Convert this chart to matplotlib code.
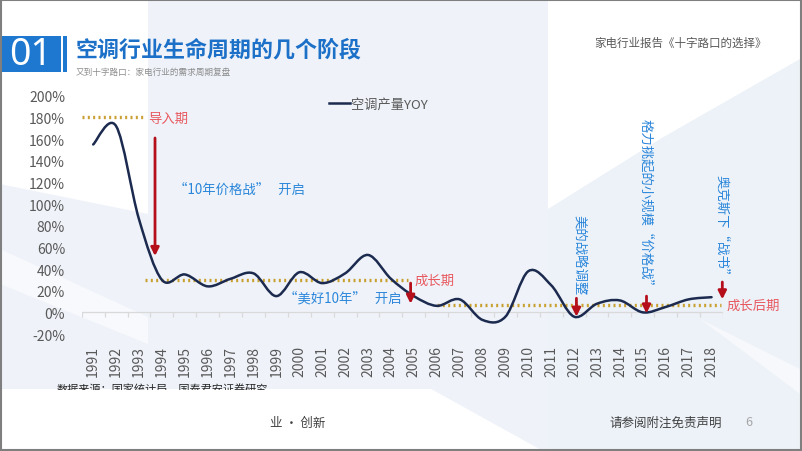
import numpy as np
import matplotlib
matplotlib.use("Agg")
import matplotlib.pyplot as plt
from matplotlib.path import Path
from matplotlib.patches import PathPatch, Rectangle, Polygon
from matplotlib.lines import Line2D

plt.rcParams['font.family'] = ['Noto Sans CJK SC', 'DejaVu Sans']

# ── DATA ─────────────────────────────────────────────────────
years = list(range(1991, 2019))
yoy = [155, 172, 86, 30, 35, 24, 31, 36, 15, 37, 27, 36, 53, 31,
       15, 6, 12, -7, -4, 38, 25, -4, 8, 11, 0, 5, 12, 14]

y_ticks = list(range(-20, 201, 20))

phase_names  = ["导入期", "成长期", "成长后期"]
phase_levels = [180, 30, 7]
phase_start  = [-0.49, 2.26, 15.0]
phase_end    = [2.26, 13.75, 27.4]
phase_text_x = [2.4, 14.05, 27.65]

event_text = ["“10年价格战”   开启", "“美好10年”   开启"]
event_x    = [3.55, 8.35]
event_y    = [114, 14]

vert_text   = ["美的战略调整", "格力挑起的小规模“价格战”", "奥克斯下“战书”"]
vert_x      = [21.2, 24.14, 27.46]
vert_bottom = [17, 19, 29]

arrow_x      = [2.7, 13.86, 21.1, 24.16, 27.47]
arrow_top    = [161, 27, 13, 15, 28]
arrow_bottom = [52, 8, -4, -1, 12]

# ── COLOURS ──────────────────────────────────────────────────
BLUE   = "#1E78CF"
NAVY   = "#1B2A4E"
GOLD   = "#C9A030"
RED_T  = "#E8585F"
RED_A  = "#B50F1C"
TXT_B  = "#2A86DA"
GREY   = "#595959"
PANEL  = "#EFF3F9"

fig = plt.figure(figsize=(8.02, 4.52), dpi=100)
fig.patch.set_facecolor("white")

# background / slide furniture in pixel coords
bg = fig.add_axes([0, 0, 1, 1], zorder=-1)
bg.set_xlim(0, 802); bg.set_ylim(452, 0); bg.axis("off")
bg.add_patch(Rectangle((148, 0), 400, 390, color=PANEL, lw=0))
bg.add_patch(Polygon([(0, 185), (148, 215), (148, 390), (0, 390)], color=PANEL, lw=0))
bg.add_patch(Polygon([(0, 250), (148, 318), (148, 345), (0, 285)], color="#F7F9FC", lw=0))
bg.add_patch(Polygon([(548, 210), (660, 140), (800, 60), (800, 452), (548, 452)],
                     color="#EDF2F8", lw=0))
bg.add_patch(Polygon([(431, 390), (548, 390), (548, 452), (543, 452)], color=PANEL, lw=0))
bg.add_patch(Polygon([(700, 320), (800, 370), (800, 395)], color="#F6F8FB", lw=0))

bg.add_patch(Rectangle((0, 37), 61, 36, color=BLUE, lw=0))
bg.add_patch(Rectangle((63, 37), 4, 36, color=BLUE, lw=0))
bg.text(30.5, 55, "01", color="white", fontsize=27, ha="center", va="center",
        family=["Noto Sans", "DejaVu Sans"])
bg.text(76, 50, "空调行业生命周期的几个阶段", color="#1C70C8", fontsize=15.8,
        fontweight="bold", va="center")
bg.text(76, 72, "又到十字路口：家电行业的需求周期复盘", color="#8C8C8C",
        fontsize=6.2, va="center")
bg.text(767, 43, "家电行业报告《十字路口的选择》", color=GREY, fontsize=8.3,
        ha="right", va="center")
bg.text(57, 389, "数据来源：国家统计局，国泰君安证券研究", color="#262626",
        fontsize=8, va="center")
bg.add_patch(Rectangle((2, 391), 268, 58, color="white", lw=0, zorder=5))
bg.text(270, 423, "业 · 创新", color="#404040", fontsize=9, va="center")
bg.text(610, 423, "请参阅附注免责声明", color="#404040", fontsize=9, va="center")
bg.text(745, 423, "6", color="#A6A6A6", fontsize=9, va="center")
bg.add_patch(Rectangle((0.8, 0.8), 800, 450, fill=False, ec="#7F7F7F", lw=1.5, zorder=6))

# ── CHART ────────────────────────────────────────────────────
ax = fig.add_axes([0.1019, 0.2588, 0.7996, 0.5272])
ax.set_facecolor("none")
x = np.arange(len(years))

# smoothed line (Catmull-Rom as Bezier segments, like Excel "smoothed line")
pts = np.column_stack([x, yoy]).astype(float)
ext = np.vstack([pts[0], pts, pts[-1]])
verts, codes = [tuple(pts[0])], [Path.MOVETO]
for i in range(len(pts) - 1):
    p0, p1, p2, p3 = ext[i], ext[i + 1], ext[i + 2], ext[i + 3]
    c1 = p1 + (p2 - p0) / 6
    c2 = p2 - (p3 - p1) / 6
    verts += [tuple(c1), tuple(c2), tuple(p2)]
    codes += [Path.CURVE4] * 3
ax.add_patch(PathPatch(Path(verts, codes), fill=False, ec=NAVY, lw=1.8,
                       capstyle="round", zorder=4))

ax.set_xlim(-0.5, len(years) - 0.5)
ax.set_ylim(-20, 200)
ax.set_yticks(y_ticks)
ax.set_yticklabels([f"{v}%" for v in y_ticks])
ax.set_xticks(x)
ax.set_xticklabels([str(y) for y in years], rotation=90, va="top")
ax.tick_params(axis="both", length=0, labelsize=10, labelcolor=GREY)
ax.tick_params(axis="x", pad=8)
ax.tick_params(axis="y", pad=12)
for s in ax.spines.values():
    s.set_visible(False)

# category axis crossing at 0 with boundary ticks
ax.axhline(0, color="#D9D9D9", lw=0.9, zorder=1)
ax.vlines(np.arange(len(years) + 1) - 0.5, -4, 0, color="#D9D9D9", lw=0.9, zorder=1)

# phase reference lines
for name, lvl, x0, x1, tx in zip(phase_names, phase_levels, phase_start, phase_end, phase_text_x):
    ax.plot([x0, x1], [lvl, lvl], color=GOLD, lw=2.4, linestyle=(0, (0.6, 1.0)),
            dash_capstyle="butt", zorder=3, clip_on=False)
    ax.text(tx, lvl, name, color=RED_T, fontsize=9.6, va="center", ha="left", clip_on=False)

# arrows
for ax_x, top, bot in zip(arrow_x, arrow_top, arrow_bottom):
    ax.annotate("", xy=(ax_x, bot), xytext=(ax_x, top),
                arrowprops=dict(arrowstyle="-|>", color=RED_A, lw=2,
                                mutation_scale=12, shrinkA=0, shrinkB=0),
                zorder=5, annotation_clip=False)

# event labels
for t, ex, ey in zip(event_text, event_x, event_y):
    ax.text(ex, ey, t, color=TXT_B, fontsize=9.6, va="center", ha="left")
for t, vx, vb in zip(vert_text, vert_x, vert_bottom):
    ax.text(vx, vb, t, color=TXT_B, fontsize=9.6, rotation=270,
            ha="center", va="bottom", rotation_mode="default", clip_on=False)

# legend
ax.legend(handles=[Line2D([], [], color=NAVY, lw=1.8)], labels=["空调产量YOY"],
          loc="center left", bbox_to_anchor=(0.385, 0.965), frameon=False,
          handlelength=1.6, handletextpad=0.1, borderpad=0, borderaxespad=0,
          fontsize=9.5, labelcolor=GREY)

plt.savefig("out.png", dpi=100)
plt.close()
